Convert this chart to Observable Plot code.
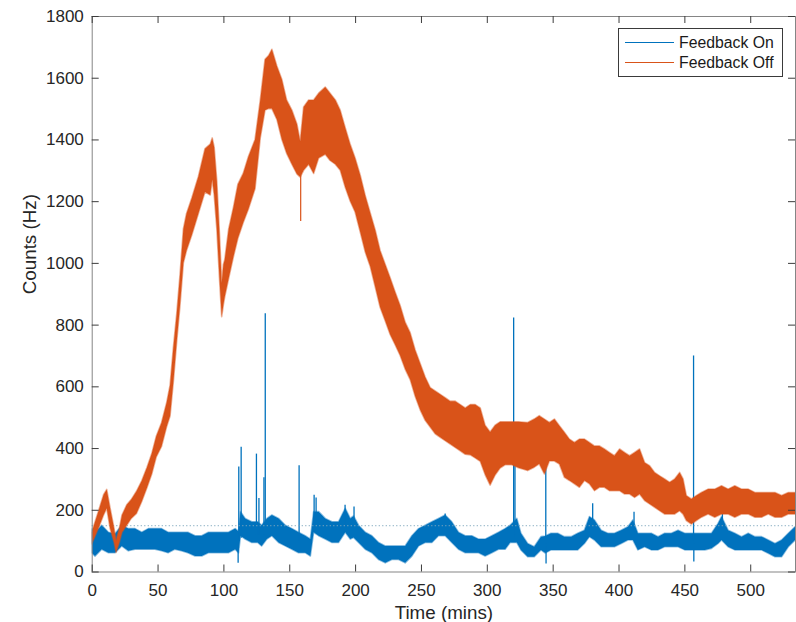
<!DOCTYPE html>
<html>
<head>
<meta charset="utf-8">
<script src="https://cdn.jsdelivr.net/npm/d3@7"></script>
<script src="https://cdn.jsdelivr.net/npm/@observablehq/plot@0.6"></script>
<style>
  body { margin: 0; background: #fff; }
  #chart { position: relative; width: 796px; height: 622px; }
  .legend {
    position: absolute; left: 618px; top: 28px; width: 165px; height: 49px;
    box-sizing: border-box; border: 1px solid #3a3a3a; background: #fff;
    font-family: "Liberation Sans", Arial, Helvetica, sans-serif; font-size: 15.8px; color: #1a1a1a;
  }
  .legend .row { position: absolute; left: 0; height: 20px; display: flex; align-items: center; }
  .legend .swatch { width: 49px; height: 1px; margin-left: 6px; margin-right: 5px; }
</style>
</head>
<body>
<div id="chart"></div>
<script>
// Series names and colours (MATLAB default line colours)
const seriesNames = ["Feedback On", "Feedback Off"];
const seriesColors = ["#0072BD", "#D95319"];

// Feedback Off: time (mins) with the lower / upper edge of the noisy trace (Hz)
const offTime = [0, 5, 9, 11.4, 14, 17, 18.5, 21, 23, 26.6, 30, 34, 38, 42, 45.6, 49, 53, 57, 59.5, 62, 64.6, 67, 69.6, 72, 76, 81, 86, 90, 91.5, 93, 95, 97, 98.7, 100, 101, 104, 107.6, 111, 115, 119, 124, 128, 131.6, 134.3, 136.8, 140.6, 144.4, 148, 152, 155.8, 158.3, 160.9, 164.7, 168.5, 172.3, 177.3, 181, 185, 188.7, 192.5, 196.3, 200, 203.9, 207.7, 211.5, 215.3, 219, 222.9, 226.6, 230.4, 234.2, 238, 241.8, 245.6, 249.4, 253.2, 257, 260.8, 264.6, 268.4, 272.2, 276, 279.8, 283.6, 287.4, 291.2, 295, 298.7, 302.5, 306.3, 310.1, 313.9, 319, 324, 331, 336, 339.8, 343.7, 347.5, 351.3, 355.1, 358.9, 362.7, 366.5, 370.3, 374.1, 377.9, 381.7, 385.5, 389.3, 393.1, 396.9, 400.8, 404.6, 408.4, 412.2, 416, 419.8, 423.6, 427.4, 431.2, 435, 438.8, 442.6, 446.4, 449, 451.5, 455.3, 459.1, 462.9, 468, 473.1, 478.2, 483.2, 488.3, 493.4, 498.5, 503.6, 508.6, 513.7, 518.8, 523.8, 528.9, 534];
const offLow  = [89, 139, 183, 205, 139, 94, 62, 95, 127, 150, 172, 188, 227, 272, 316, 371, 405, 471, 504, 615, 748, 860, 1000, 1040, 1090, 1160, 1230, 1220, 1270, 1220, 1110, 950, 826, 865, 890, 950, 1020, 1080, 1130, 1175, 1240, 1405, 1495, 1500, 1500, 1465, 1400, 1355, 1320, 1288, 1278, 1300, 1320, 1290, 1340, 1352, 1332, 1320, 1300, 1245, 1200, 1165, 1100, 1035, 988, 922, 856, 812, 768, 735, 700, 656, 622, 568, 524, 490, 468, 446, 435, 424, 413, 402, 391, 380, 378, 368, 357, 314, 280, 313, 335, 346, 346, 336, 327, 338, 349, 316, 358, 358, 348, 305, 295, 284, 273, 295, 284, 262, 273, 273, 262, 262, 262, 251, 251, 240, 251, 230, 219, 208, 197, 186, 186, 186, 197, 186, 165, 154, 165, 176, 186, 176, 186, 186, 176, 186, 186, 176, 176, 186, 176, 176, 186, 186];
const offHigh = [127, 194, 249, 266, 205, 139, 100, 140, 183, 216, 233, 260, 294, 338, 382, 438, 482, 549, 604, 726, 837, 960, 1110, 1160, 1210, 1280, 1370, 1385, 1405, 1375, 1265, 1095, 935, 995, 1010, 1110, 1180, 1255, 1290, 1345, 1400, 1528, 1660, 1672, 1692, 1638, 1594, 1528, 1495, 1450, 1394, 1505, 1528, 1528, 1550, 1570, 1550, 1528, 1495, 1438, 1384, 1340, 1284, 1218, 1162, 1106, 1040, 995, 952, 906, 862, 808, 774, 718, 674, 630, 596, 585, 574, 563, 552, 552, 541, 530, 541, 541, 530, 474, 452, 474, 485, 485, 485, 485, 483, 494, 505, 494, 483, 494, 472, 451, 429, 418, 429, 429, 418, 407, 407, 397, 386, 375, 397, 386, 375, 386, 397, 353, 343, 321, 310, 300, 289, 300, 321, 300, 246, 235, 246, 256, 267, 267, 278, 267, 278, 267, 267, 256, 256, 256, 256, 246, 256, 256];

// Feedback Off: brief drop-outs (time, trace level, lowest value)
const offDipTime = [158.3];
const offDipBase = [1300];
const offDipValue = [1136];

// Feedback On: time (mins) with the lower / upper edge of the noisy trace (Hz)
const onTime = [0, 2.5, 7.6, 12.7, 17.7, 22.8, 27.8, 32.9, 38, 43, 48, 53, 58, 63, 68, 73, 78.5, 83.5, 88.6, 93.7, 98.7, 103.8, 108.9, 111.5, 113, 116.5, 121.5, 126, 129, 133, 136.8, 141.9, 147, 152, 157, 162.1, 166, 168.5, 172.3, 177.3, 182.4, 187.4, 192.5, 196.3, 198.8, 202.6, 207.7, 212.7, 217.8, 222.9, 227.9, 233, 238, 243.1, 248.2, 253.2, 258.3, 263.3, 268.4, 273.4, 278.5, 283.6, 288.6, 293.7, 298.7, 303.8, 308.9, 313.9, 317.7, 322.8, 325.9, 331, 336, 341.1, 344.4, 348.7, 353.8, 358.9, 364, 369, 374.1, 377.9, 381.7, 386.8, 391.9, 396.9, 402, 407.1, 410.9, 414.7, 419.8, 424.9, 430, 435, 440.1, 445.2, 450.3, 456.6, 460.4, 465.5, 470.6, 475.6, 478.2, 483.2, 488.3, 493.4, 498.5, 503.6, 508.6, 513.7, 518.8, 523.8, 528.9, 534];
const onLow  = [61, 50, 72, 61, 61, 83, 67, 72, 72, 72, 72, 67, 61, 72, 67, 61, 50, 50, 61, 61, 61, 61, 72, 60, 116, 105, 94, 94, 83, 105, 116, 94, 83, 72, 61, 61, 50, 127, 116, 105, 94, 94, 127, 105, 110, 94, 72, 61, 39, 28, 39, 39, 28, 50, 83, 94, 94, 116, 116, 94, 72, 61, 61, 61, 50, 61, 72, 72, 94, 94, 70, 48, 48, 70, 60, 70, 70, 70, 70, 70, 91, 113, 102, 80, 80, 80, 91, 102, 102, 70, 80, 70, 70, 80, 80, 80, 70, 70, 70, 70, 75, 91, 102, 80, 70, 70, 70, 70, 70, 59, 48, 48, 80, 102];
const onHigh = [139, 127, 150, 127, 122, 150, 139, 139, 127, 139, 139, 139, 127, 127, 127, 127, 116, 116, 127, 127, 127, 127, 139, 130, 194, 172, 161, 161, 150, 172, 183, 172, 150, 139, 127, 116, 105, 194, 194, 172, 161, 161, 205, 172, 180, 150, 127, 116, 94, 83, 83, 83, 83, 116, 139, 150, 161, 172, 183, 161, 127, 116, 116, 105, 105, 116, 127, 139, 150, 172, 124, 91, 80, 113, 115, 124, 124, 113, 113, 124, 134, 178, 167, 134, 124, 124, 134, 145, 167, 124, 124, 124, 113, 124, 124, 134, 124, 124, 124, 124, 124, 156, 178, 134, 124, 113, 124, 113, 113, 102, 91, 102, 124, 145];

// Feedback On: short spikes and drop-outs (time, trace level, extreme value)
const onSpikeTime = [110.8, 111.3, 113.1, 124.7, 126.6, 130.4, 131.4, 157.1, 168.5, 170, 192, 198.8, 268, 320, 321, 344.4, 344.6, 380, 411.4, 456.6, 456.8, 478.5];
const onSpikeBase = [90, 100, 110, 120, 120, 120, 120, 100, 130, 130, 150, 150, 150, 110, 120, 90, 80, 140, 130, 100, 90, 140];
const onSpikePeak = [28, 340, 404, 382, 238, 305, 837, 344, 249, 240, 216, 211, 188, 823, 450, 372, 26, 221, 194, 700, 32, 188];

// Reference level and axis ticks
const thresholdLevel = [150];
const xTicks = [0, 50, 100, 150, 200, 250, 300, 350, 400, 450, 500];
const yTicks = [0, 200, 400, 600, 800, 1000, 1200, 1400, 1600, 1800];

const offRows = offTime.map((t, i) => ({t, lo: offLow[i], hi: offHigh[i]}));
const onRows = onTime.map((t, i) => ({t, lo: onLow[i], hi: onHigh[i]}));
const offDips = offDipTime.map((t, i) => ({t, a: offDipBase[i], b: offDipValue[i]}));
const onSpikes = onSpikeTime.map((t, i) => ({t, a: onSpikeBase[i], b: onSpikePeak[i]}));

const W = 796, H = 622;
const M = {left: 91.7, right: 1, top: 16, bottom: 50.5};
const tickLen = 7;
const frameW = W - M.left - M.right;
const frameH = H - M.top - M.bottom;
const tickColor = "#3c3c3c";
const textColor = "#262626";

const chart = Plot.plot({
  width: W,
  height: H,
  marginLeft: M.left,
  marginRight: M.right,
  marginTop: M.top,
  marginBottom: M.bottom,
  style: {fontFamily: "'Liberation Sans', Arial, Helvetica, sans-serif", fontSize: "17px", color: textColor, background: "#fff"},
  x: {domain: [0, 534]},
  y: {domain: [0, 1800]},
  marks: [
    // Feedback On trace
    Plot.areaY(onRows, {x: "t", y1: "lo", y2: "hi", fill: seriesColors[0], stroke: seriesColors[0], strokeWidth: 1.6, strokeOpacity: 0.45, clip: true}),
    Plot.ruleX(onSpikes, {x: "t", y1: "a", y2: "b", stroke: seriesColors[0], strokeWidth: 1.3, clip: true}),
    // dotted reference level
    Plot.ruleY(thresholdLevel, {stroke: "#7fa7bd", strokeWidth: 1, strokeDasharray: "1.2,2.3"}),
    // Feedback Off trace
    Plot.areaY(offRows, {x: "t", y1: "lo", y2: "hi", fill: seriesColors[1], stroke: seriesColors[1], strokeWidth: 1.6, strokeOpacity: 0.45, clip: true}),
    Plot.ruleX(offDips, {x: "t", y1: "a", y2: "b", stroke: seriesColors[1], strokeWidth: 1.2, clip: true}),
    // box with inward ticks on all four sides
    Plot.frame({stroke: "#858585", strokeWidth: 1}),
    Plot.tickX(xTicks, {x: d => d, insetTop: frameH - tickLen, stroke: tickColor}),
    Plot.tickX(xTicks, {x: d => d, insetBottom: frameH - tickLen, stroke: tickColor}),
    Plot.tickY(yTicks, {y: d => d, insetRight: frameW - tickLen, stroke: tickColor}),
    Plot.tickY(yTicks, {y: d => d, insetLeft: frameW - tickLen, stroke: tickColor}),
    // tick labels
    Plot.axisX({anchor: "bottom", ticks: xTicks, tickFormat: d3.format("d"), tickSize: 0, tickPadding: 12, label: null, fill: textColor, fontSize: 17}),
    Plot.axisY({anchor: "left", ticks: yTicks, tickFormat: d3.format("d"), tickSize: 0, tickPadding: 8.4, label: null, fill: textColor, fontSize: 17}),
    // axis titles
    Plot.text(["Time (mins)"], {text: d => d, frameAnchor: "bottom", lineAnchor: "bottom", dy: 47, fontSize: 18.8, fill: textColor}),
    Plot.text(["Counts (Hz)"], {text: d => d, frameAnchor: "left", rotate: -90, lineAnchor: "bottom", dx: -55.7, fontSize: 18.8, fill: textColor})
  ]
});

const holder = document.getElementById("chart");
holder.appendChild(chart);

// legend box in the upper right of the axes
const legend = document.createElement("div");
legend.className = "legend";
seriesNames.forEach((name, i) => {
  const row = document.createElement("div");
  row.className = "row";
  row.style.top = (3.7 + i * 20) + "px";
  const sw = document.createElement("span");
  sw.className = "swatch";
  sw.style.background = seriesColors[i];
  const label = document.createElement("span");
  label.textContent = name;
  row.appendChild(sw);
  row.appendChild(label);
  legend.appendChild(row);
});
holder.appendChild(legend);
</script>
</body>
</html>
